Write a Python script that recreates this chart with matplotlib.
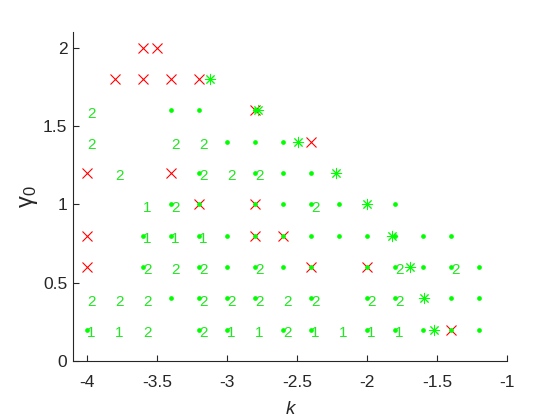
import matplotlib
matplotlib.use("Agg")
import matplotlib.pyplot as plt

plt.rcParams['font.family'] = ['Liberation Sans', 'DejaVu Sans']
plt.rcParams['axes.unicode_minus'] = False
plt.rcParams['mathtext.fontset'] = 'dejavusans'

# red crosses (k, gamma0)
cross_k = [-3.6, -3.5, -3.8, -3.6, -3.4, -3.2, -2.8, -2.4, -4.0, -3.4,
           -3.2, -2.8, -4.0, -2.8, -2.6, -4.0, -2.4, -2.0, -1.4]
cross_g = [2.0, 2.0, 1.8, 1.8, 1.8, 1.8, 1.6, 1.4, 1.2, 1.2,
           1.0, 1.0, 0.8, 0.8, 0.8, 0.6, 0.6, 0.6, 0.2]

# green dots
dot_k = [-3.4, -3.2, -2.8,
         -3.0, -2.8, -2.6,
         -3.2, -2.8, -2.6, -2.4,
         -3.4, -3.2, -2.8, -2.6, -2.4, -2.2, -1.8,
         -3.6, -3.4, -3.2, -3.0, -2.8, -2.6, -2.4, -2.2, -2.0, -1.8, -1.6, -1.4,
         -3.6, -3.2, -3.0, -2.8, -2.6, -2.4, -2.0, -1.8, -1.6, -1.4, -1.2,
         -3.4, -3.2, -3.0, -2.8, -2.4, -2.0, -1.8, -1.4, -1.2,
         -4.0, -3.2, -3.0, -2.6, -2.4, -2.0, -1.8, -1.6, -1.4, -1.2]
dot_g = [1.6, 1.6, 1.6,
         1.4, 1.4, 1.4,
         1.2, 1.2, 1.2, 1.2,
         1.0, 1.0, 1.0, 1.0, 1.0, 1.0, 1.0,
         0.8, 0.8, 0.8, 0.8, 0.8, 0.8, 0.8, 0.8, 0.8, 0.8, 0.8, 0.8,
         0.6, 0.6, 0.6, 0.6, 0.6, 0.6, 0.6, 0.6, 0.6, 0.6, 0.6,
         0.4, 0.4, 0.4, 0.4, 0.4, 0.4, 0.4, 0.4, 0.4,
         0.2, 0.2, 0.2, 0.2, 0.2, 0.2, 0.2, 0.2, 0.2, 0.2]

# green asterisks (boundary)
star_k = [-3.12, -2.78, -2.49, -2.22, -2.0, -1.82, -1.69, -1.59, -1.52]
star_g = [1.8, 1.6, 1.4, 1.2, 1.0, 0.8, 0.6, 0.4, 0.2]

# text labels "1"
one_k = [-3.6, -3.6, -3.4, -3.2, -4.0, -3.8, -3.0, -2.8, -2.4, -2.2, -2.0, -1.8]
one_g = [1.0, 0.8, 0.8, 0.8, 0.2, 0.2, 0.2, 0.2, 0.2, 0.2, 0.2, 0.2]

# text labels "2"
two_k = [-4.0, -4.0, -3.4, -3.2, -3.8, -3.2, -3.0, -2.8, -3.4, -2.4,
         -3.6, -3.4, -3.2, -2.8, -1.8, -1.4,
         -4.0, -3.8, -3.6, -3.2, -3.0, -2.8, -2.6, -2.4, -2.0, -1.8,
         -3.6, -3.2, -2.6]
two_g = [1.6, 1.4, 1.4, 1.4, 1.2, 1.2, 1.2, 1.2, 1.0, 1.0,
         0.6, 0.6, 0.6, 0.6, 0.6, 0.6,
         0.4, 0.4, 0.4, 0.4, 0.4, 0.4, 0.4, 0.4, 0.4, 0.4,
         0.2, 0.2, 0.2]

x_ticks = [-4, -3.5, -3, -2.5, -2, -1.5, -1]
x_ticklabels = ['-4', '-3.5', '-3', '-2.5', '-2', '-1.5', '-1']
y_ticks = [0, 0.5, 1, 1.5, 2]
y_ticklabels = ['0', '0.5', '1', '1.5', '2']

GREEN = '#00ff00'
TEXT_GREEN = '#22e622'
RED = '#ff0000'
AX = '#262626'

fig = plt.figure(figsize=(5.6, 4.2), dpi=100)
ax = fig.add_axes([0.1304, 0.1405, 0.775, 0.7833])

ax.plot(cross_k, cross_g, linestyle='none', marker='x', color=RED,
        markersize=6.5, markeredgewidth=0.8, zorder=2)
ax.plot(dot_k, dot_g, linestyle='none', marker='o', color=GREEN,
        markersize=3.4, markeredgewidth=0, zorder=3)
for k, g in zip(one_k, one_g):
    ax.annotate('1', (k, g), xytext=(0.2, -5.4), textcoords='offset points',
                ha='left', va='baseline', fontsize=11, color=TEXT_GREEN, zorder=4)
for k, g in zip(two_k, two_g):
    ax.annotate('2', (k, g), xytext=(0.2, -5.4), textcoords='offset points',
                ha='left', va='baseline', fontsize=11, color=TEXT_GREEN, zorder=4)
ax.plot(star_k, star_g, linestyle='none', marker=(8, 2, 0), color=GREEN,
        markersize=8, markeredgewidth=0.7, zorder=5)

ax.set_xlim(-4.1, -1)
ax.set_ylim(0, 2.1)
ax.set_xticks(x_ticks)
ax.set_xticklabels(x_ticklabels)
ax.set_yticks(y_ticks)
ax.set_yticklabels(y_ticklabels)

for s in ['top', 'right']:
    ax.spines[s].set_visible(False)
for s in ['left', 'bottom']:
    ax.spines[s].set_color(AX)
    ax.spines[s].set_linewidth(0.8)
ax.tick_params(direction='in', length=4, width=0.8, colors=AX,
               labelsize=12.5, labelcolor=AX)
ax.tick_params(axis='x', pad=10)
ax.tick_params(axis='y', pad=4)

ax.set_xlabel('k', fontsize=13.5, style='italic', color=AX, labelpad=8)
ax.set_ylabel(r'$\mathregular{\gamma_0}$', fontsize=17, color=AX, labelpad=2)

fig.savefig('out.png', dpi=100)
